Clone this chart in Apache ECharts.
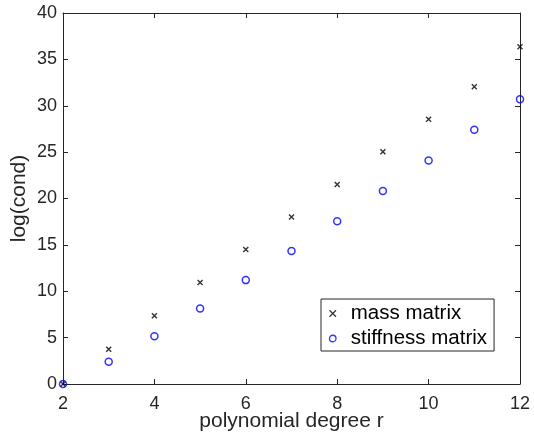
<!DOCTYPE html>
<html><head><meta charset="utf-8">
<script src="https://cdn.jsdelivr.net/npm/echarts@6/dist/echarts.min.js"></script>
<style>html,body{margin:0;padding:0;background:#fff}#c{width:534px;height:440px}</style>
</head><body><div id="c"></div>
<script>
var degrees = [2, 3, 4, 5, 6, 7, 8, 9, 10, 11, 12];
var massCond = [0, 3.75, 7.35, 10.95, 14.5, 18.0, 21.5, 25.05, 28.55, 32.05, 36.35];
var stiffCond = [0, 2.4, 5.15, 8.15, 11.2, 14.35, 17.55, 20.8, 24.1, 27.4, 30.7];
var seriesNames = ['mass matrix', 'stiffness matrix'];

function pairs(xs, ys){ return xs.map(function(x,i){ return [x, ys[i]]; }); }
var font = 'Liberation Sans, Arial, Helvetica, sans-serif';
var axisCol = '#262626';
var crossPath = 'path://M0,0L10,10M10,0L0,10';

var chart = echarts.init(document.getElementById('c'));
var gridPos = {left: 63, right: 14, top: 13, bottom: 56, containLabel: false, outerBoundsMode: 'none'};
function xAxisBase(pos, show){
  return {
    type: 'value', min: 2, max: 12, interval: 2, position: pos,
    axisLine: {show: true, onZero: false, lineStyle: {color: axisCol, width: 1}},
    axisTick: {show: true, inside: true, length: 5, lineStyle: {color: axisCol}},
    axisLabel: {show: show, color: axisCol, fontSize: 18, fontFamily: font, margin: 11},
    splitLine: {show: false}
  };
}
function yAxisBase(pos, show){
  return {
    type: 'value', min: 0, max: 40, interval: 5, position: pos,
    axisLine: {show: true, onZero: false, lineStyle: {color: axisCol, width: 1}},
    axisTick: {show: true, inside: true, length: 5, lineStyle: {color: axisCol}},
    axisLabel: {show: show, color: axisCol, fontSize: 18, fontFamily: font, margin: 6},
    splitLine: {show: false}
  };
}
var xb = xAxisBase('bottom', true);
xb.name = 'polynomial degree r'; xb.nameLocation = 'middle'; xb.nameGap = 27; xb.nameMoveOverlap = false;
xb.nameTextStyle = {color: axisCol, fontSize: 21, fontFamily: font};
var yl = yAxisBase('left', true);
yl.name = 'log(cond)'; yl.nameLocation = 'middle'; yl.nameGap = 33; yl.nameMoveOverlap = false;
yl.nameTextStyle = {color: axisCol, fontSize: 21, fontFamily: font};

chart.setOption({
  animation: false,
  backgroundColor: '#fff',
  grid: gridPos,
  xAxis: [xb, xAxisBase('top', false)],
  yAxis: [yl, yAxisBase('right', false)],
  legend: {
    orient: 'vertical', left: 321, top: 299,
    borderColor: axisCol, borderWidth: 1, backgroundColor: '#fff',
    padding: [4, 7, 2, 6], itemGap: 4, itemWidth: 26, itemHeight: 6.5,
    textStyle: {color: '#000', fontSize: 20.5, fontFamily: font},
    data: [
      {name: seriesNames[0], icon: crossPath, itemStyle: {color: 'none', borderColor: '#000', borderWidth: 1.2}},
      {name: seriesNames[1], icon: 'circle', itemStyle: {color: 'none', borderColor: '#0000ff', borderWidth: 1.3}}
    ]
  },
  series: [
    {
      name: seriesNames[0], type: 'scatter', data: pairs(degrees, massCond),
      symbol: crossPath, symbolSize: 5,
      itemStyle: {color: 'none', borderColor: '#000', borderWidth: 1.4},
      z: 3
    },
    {
      name: seriesNames[1], type: 'scatter', data: pairs(degrees, stiffCond),
      symbol: 'circle', symbolSize: 7,
      itemStyle: {color: 'none', borderColor: '#0000ff', borderWidth: 1.5},
      z: 2
    }
  ]
});
</script></body></html>
